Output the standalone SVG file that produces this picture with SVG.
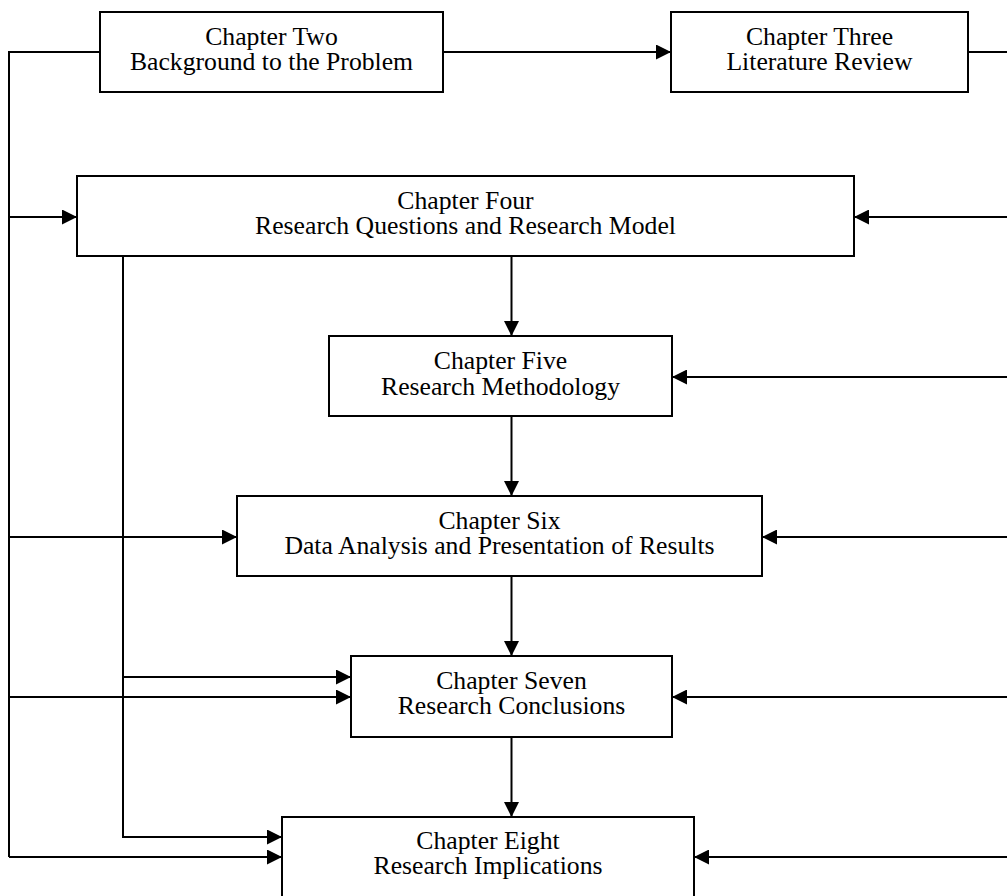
<svg xmlns="http://www.w3.org/2000/svg" width="1007" height="896" viewBox="0 0 1007 896">
  <style>
    .box { fill: #ffffff; stroke: #000000; stroke-width: 2; }
    .lbl { font-family: "Liberation Serif", "Times New Roman", serif; font-size: 25.7px; fill: #000000; text-anchor: middle; }
    .wire { fill: none; stroke: #000000; stroke-width: 2; }
    .arrow { marker-end: url(#head); }
  </style>
  <defs>
    <marker id="head" markerUnits="userSpaceOnUse" markerWidth="15" markerHeight="15" refX="15" refY="7.5" orient="auto">
      <path d="M0,0 L15,7.5 L0,15 Z" fill="#000000"/>
    </marker>
  </defs>
  <rect x="0" y="0" width="1007" height="896" fill="#ffffff"/>

  <!-- connectors -->
  <g id="connectors">
    <!-- Two to Three -->
    <line class="wire arrow" x1="443" y1="52" x2="671" y2="52"/>
    <!-- Three out to the right-hand bus -->
    <line class="wire" x1="968" y1="52" x2="1008" y2="52"/>
    <!-- left bus from Chapter Two -->
    <polyline class="wire" points="100,52 9,52 9,857"/>
    <line class="wire arrow" x1="9" y1="217" x2="77" y2="217"/>
    <line class="wire arrow" x1="9" y1="537" x2="237" y2="537"/>
    <line class="wire arrow" x1="9" y1="697" x2="351" y2="697"/>
    <line class="wire arrow" x1="9" y1="857" x2="282" y2="857"/>
    <!-- inner bus from Chapter Four -->
    <polyline class="wire arrow" points="123,256 123,837 282,837"/>
    <line class="wire arrow" x1="123" y1="677" x2="351" y2="677"/>
    <!-- right-hand bus feeds -->
    <line class="wire arrow" x1="1008" y1="217" x2="854" y2="217"/>
    <line class="wire arrow" x1="1008" y1="377" x2="672" y2="377"/>
    <line class="wire arrow" x1="1008" y1="537" x2="762" y2="537"/>
    <line class="wire arrow" x1="1008" y1="697" x2="672" y2="697"/>
    <line class="wire arrow" x1="1008" y1="857" x2="694" y2="857"/>
    <!-- central chain -->
    <line class="wire arrow" x1="511.5" y1="256" x2="511.5" y2="336"/>
    <line class="wire arrow" x1="511.5" y1="416" x2="511.5" y2="496"/>
    <line class="wire arrow" x1="511.5" y1="576" x2="511.5" y2="656"/>
    <line class="wire arrow" x1="511.5" y1="737" x2="511.5" y2="817"/>
  </g>

  <g id="ch2">
    <rect class="box" x="100" y="12" width="343" height="80"/>
    <text class="lbl" x="271.5" y="44.5">Chapter Two</text>
    <text class="lbl" x="271.5" y="69.5">Background to the Problem</text>
  </g>
  <g id="ch3">
    <rect class="box" x="671" y="12" width="297" height="80"/>
    <text class="lbl" x="819.5" y="45">Chapter Three</text>
    <text class="lbl" x="819.5" y="70">Literature Review</text>
  </g>
  <g id="ch4">
    <rect class="box" x="77" y="176" width="777" height="80"/>
    <text class="lbl" x="465.5" y="208.5">Chapter Four</text>
    <text class="lbl" x="465.5" y="233.5">Research Questions and Research Model</text>
  </g>
  <g id="ch5">
    <rect class="box" x="329" y="336" width="343" height="80"/>
    <text class="lbl" x="500.5" y="369">Chapter Five</text>
    <text class="lbl" x="500.5" y="395">Research Methodology</text>
  </g>
  <g id="ch6">
    <rect class="box" x="237" y="496" width="525" height="80"/>
    <text class="lbl" x="499.5" y="528.5">Chapter Six</text>
    <text class="lbl" x="499.5" y="553.5">Data Analysis and Presentation of Results</text>
  </g>
  <g id="ch7">
    <rect class="box" x="351" y="656" width="321" height="81"/>
    <text class="lbl" x="511.5" y="688.5">Chapter Seven</text>
    <text class="lbl" x="511.5" y="713.5">Research Conclusions</text>
  </g>
  <g id="ch8">
    <rect class="box" x="282" y="817" width="412" height="90"/>
    <text class="lbl" x="488" y="849">Chapter Eight</text>
    <text class="lbl" x="488" y="874">Research Implications</text>
  </g>
</svg>
